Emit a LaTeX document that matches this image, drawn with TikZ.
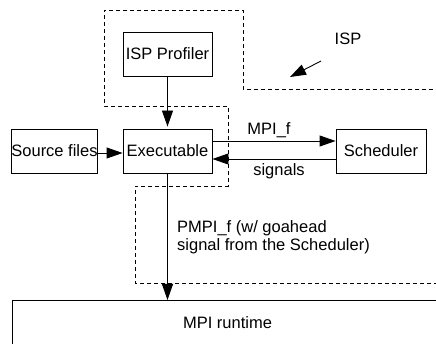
\documentclass[tikz,border=0pt]{standalone}
\usepackage{fontspec}
\setmainfont{Liberation Sans}
\usetikzlibrary{arrows.meta}
\begin{document}
\begin{tikzpicture}[x=1pt,y=-1pt,
  every node/.style={font=\fontsize{16.5}{18.5}\selectfont, inner sep=0pt},
  box/.style={draw, line width=0.9pt, minimum height=44pt},
  arr/.style={line width=0.9pt, -{Triangle[length=16pt,width=11pt]}},
  dashline/.style={line width=0.9pt, dash pattern=on 4pt off 3pt}]
\useasboundingbox (0,0) rectangle (436,344);
\begin{scope}
\clip (0,0) rectangle (436,344);
% ISP dashed outline
\draw[dashline] (440,89) -- (243,89) -- (243,10) -- (104,10) -- (104,106) -- (228,106) -- (228,186) -- (135,186) -- (135,283) -- (440,283);
% MPI runtime box (cut by the picture edge)
\draw[line width=0.9pt] (440,300) -- (12,300) -- (12,350);
\coordinate (rt) at (167.5,300);
\node (mpirt) at (227.5,323) {MPI runtime};
\end{scope}
\node[box, minimum width=89pt] (prof) at (167.5,54) {ISP Profiler};
\node[box, minimum width=89pt] (exe) at (167.5,151) {Executable};
\node[box, minimum width=85pt] (src) at (54.5,151) {Source files};
\node[box, minimum width=90pt] (sch) at (381,151) {Scheduler};
\node (isp) at (348,39) {ISP};
\coordinate (ispA) at (321,61);
\coordinate (ispB) at (290,77);
\draw[arr] (ispA) -- (ispB);
\draw[arr, shorten >=2pt] (prof.south) -- (exe.north);
\draw[arr] ([yshift=-2pt]src.east) -- ([yshift=-2pt]exe.west);
\draw[arr] ([yshift=10pt]exe.east) -- node[above=3pt, xshift=-5pt] (mpif) {MPI\_f} ([yshift=10pt]sch.west);
\draw[arr] ([yshift=-8pt]sch.west) -- node[below=4pt, xshift=5pt] (sig) {signals} ([yshift=-8pt]exe.west -| exe.east);
\draw[arr] (exe.south) -- (rt);
\node[anchor=west, align=left] (pmpi) at (177,237) {PMPI\_f (w/ goahead\\signal from the Scheduler)};
\end{tikzpicture}
\end{document}
